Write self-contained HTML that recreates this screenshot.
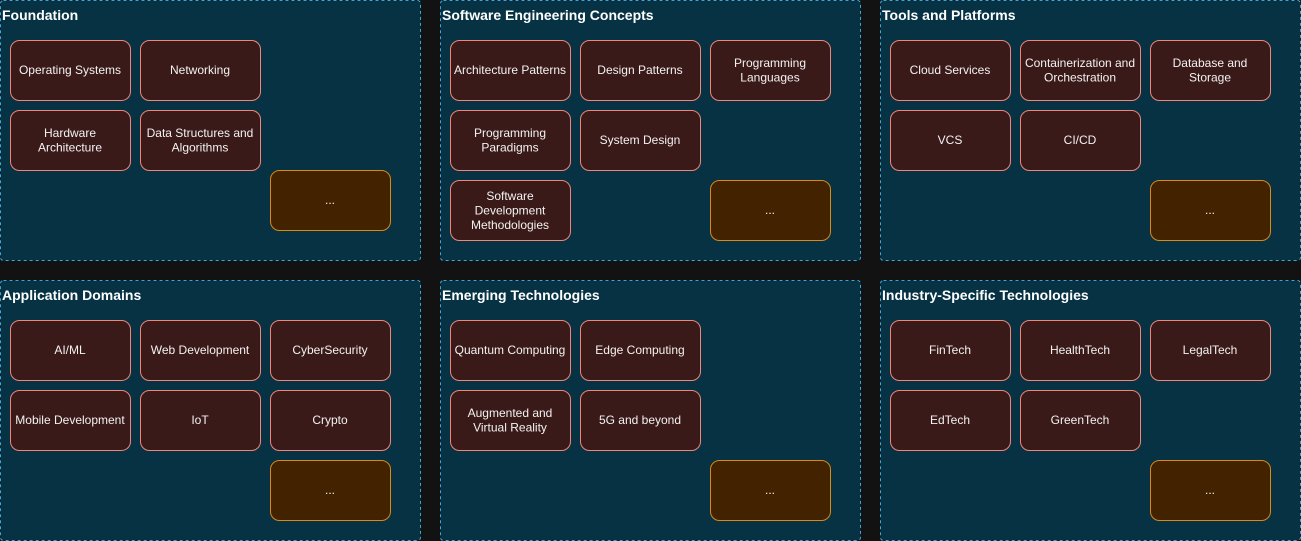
<!DOCTYPE html>
<html><head><meta charset="utf-8"><style>
html,body{margin:0;padding:0;background:#121212;}
svg{display:block;}
text{font-family:"Liberation Sans",Arial,sans-serif;}
.t{font-size:14px;font-weight:bold;fill:#ffffff;}
.n{font-size:12px;fill:#f2f2f2;text-anchor:middle;}
.c{fill:#063244;stroke:#3aa6dc;stroke-width:1;stroke-dasharray:3 3;}
.r{fill:#3a1a18;stroke:#f0867a;stroke-width:1;}
.o{fill:#432200;stroke:#d98a14;stroke-width:1;}
</style></head><body>
<svg width="1301" height="541" viewBox="0 0 1301 541" xmlns="http://www.w3.org/2000/svg">
<rect x="0" y="0" width="1301" height="541" fill="#121212"/>

<!-- Foundation -->
<g transform="translate(0,0)">
<rect class="c" x="0.5" y="0.5" width="420" height="260" rx="3"/>
<text class="t" x="2" y="20">Foundation</text>
<rect class="r" x="10.5" y="40.5" width="120" height="60" rx="9"/>
<text class="n" x="70" y="74">Operating Systems</text>
<rect class="r" x="140.5" y="40.5" width="120" height="60" rx="9"/>
<text class="n" x="200" y="74">Networking</text>
<rect class="r" x="10.5" y="110.5" width="120" height="60" rx="9"/>
<text class="n" x="70" y="137">Hardware</text><text class="n" x="70" y="151.5">Architecture</text>
<rect class="r" x="140.5" y="110.5" width="120" height="60" rx="9"/>
<text class="n" x="200" y="137">Data Structures and</text><text class="n" x="200" y="151.5">Algorithms</text>
<rect class="o" x="270.5" y="170.5" width="120" height="60" rx="9"/>
<text class="n" x="330" y="204">...</text>
</g>

<!-- Software Engineering Concepts -->
<g transform="translate(440,0)">
<rect class="c" x="0.5" y="0.5" width="420" height="260" rx="3"/>
<text class="t" x="2" y="20">Software Engineering Concepts</text>
<rect class="r" x="10.5" y="40.5" width="120" height="60" rx="9"/>
<text class="n" x="70" y="74">Architecture Patterns</text>
<rect class="r" x="140.5" y="40.5" width="120" height="60" rx="9"/>
<text class="n" x="200" y="74">Design Patterns</text>
<rect class="r" x="270.5" y="40.5" width="120" height="60" rx="9"/>
<text class="n" x="330" y="67">Programming</text><text class="n" x="330" y="81.5">Languages</text>
<rect class="r" x="10.5" y="110.5" width="120" height="60" rx="9"/>
<text class="n" x="70" y="137">Programming</text><text class="n" x="70" y="151.5">Paradigms</text>
<rect class="r" x="140.5" y="110.5" width="120" height="60" rx="9"/>
<text class="n" x="200" y="144">System Design</text>
<rect class="r" x="10.5" y="180.5" width="120" height="60" rx="9"/>
<text class="n" x="70" y="200">Software</text><text class="n" x="70" y="214.5">Development</text><text class="n" x="70" y="229">Methodologies</text>
<rect class="o" x="270.5" y="180.5" width="120" height="60" rx="9"/>
<text class="n" x="330" y="214">...</text>
</g>

<!-- Tools and Platforms -->
<g transform="translate(880,0)">
<rect class="c" x="0.5" y="0.5" width="420" height="260" rx="3"/>
<text class="t" x="2" y="20">Tools and Platforms</text>
<rect class="r" x="10.5" y="40.5" width="120" height="60" rx="9"/>
<text class="n" x="70" y="74">Cloud Services</text>
<rect class="r" x="140.5" y="40.5" width="120" height="60" rx="9"/>
<text class="n" x="200" y="67">Containerization and</text><text class="n" x="200" y="81.5">Orchestration</text>
<rect class="r" x="270.5" y="40.5" width="120" height="60" rx="9"/>
<text class="n" x="330" y="67">Database and</text><text class="n" x="330" y="81.5">Storage</text>
<rect class="r" x="10.5" y="110.5" width="120" height="60" rx="9"/>
<text class="n" x="70" y="144">VCS</text>
<rect class="r" x="140.5" y="110.5" width="120" height="60" rx="9"/>
<text class="n" x="200" y="144">CI/CD</text>
<rect class="o" x="270.5" y="180.5" width="120" height="60" rx="9"/>
<text class="n" x="330" y="214">...</text>
</g>

<!-- Application Domains -->
<g transform="translate(0,280)">
<rect class="c" x="0.5" y="0.5" width="420" height="260" rx="3"/>
<text class="t" x="2" y="20">Application Domains</text>
<rect class="r" x="10.5" y="40.5" width="120" height="60" rx="9"/>
<text class="n" x="70" y="74">AI/ML</text>
<rect class="r" x="140.5" y="40.5" width="120" height="60" rx="9"/>
<text class="n" x="200" y="74">Web Development</text>
<rect class="r" x="270.5" y="40.5" width="120" height="60" rx="9"/>
<text class="n" x="330" y="74">CyberSecurity</text>
<rect class="r" x="10.5" y="110.5" width="120" height="60" rx="9"/>
<text class="n" x="70" y="144">Mobile Development</text>
<rect class="r" x="140.5" y="110.5" width="120" height="60" rx="9"/>
<text class="n" x="200" y="144">IoT</text>
<rect class="r" x="270.5" y="110.5" width="120" height="60" rx="9"/>
<text class="n" x="330" y="144">Crypto</text>
<rect class="o" x="270.5" y="180.5" width="120" height="60" rx="9"/>
<text class="n" x="330" y="214">...</text>
</g>

<!-- Emerging Technologies -->
<g transform="translate(440,280)">
<rect class="c" x="0.5" y="0.5" width="420" height="260" rx="3"/>
<text class="t" x="2" y="20">Emerging Technologies</text>
<rect class="r" x="10.5" y="40.5" width="120" height="60" rx="9"/>
<text class="n" x="70" y="74">Quantum Computing</text>
<rect class="r" x="140.5" y="40.5" width="120" height="60" rx="9"/>
<text class="n" x="200" y="74">Edge Computing</text>
<rect class="r" x="10.5" y="110.5" width="120" height="60" rx="9"/>
<text class="n" x="70" y="137">Augmented and</text><text class="n" x="70" y="151.5">Virtual Reality</text>
<rect class="r" x="140.5" y="110.5" width="120" height="60" rx="9"/>
<text class="n" x="200" y="144">5G and beyond</text>
<rect class="o" x="270.5" y="180.5" width="120" height="60" rx="9"/>
<text class="n" x="330" y="214">...</text>
</g>

<!-- Industry-Specific Technologies -->
<g transform="translate(880,280)">
<rect class="c" x="0.5" y="0.5" width="420" height="260" rx="3"/>
<text class="t" x="2" y="20">Industry-Specific Technologies</text>
<rect class="r" x="10.5" y="40.5" width="120" height="60" rx="9"/>
<text class="n" x="70" y="74">FinTech</text>
<rect class="r" x="140.5" y="40.5" width="120" height="60" rx="9"/>
<text class="n" x="200" y="74">HealthTech</text>
<rect class="r" x="270.5" y="40.5" width="120" height="60" rx="9"/>
<text class="n" x="330" y="74">LegalTech</text>
<rect class="r" x="10.5" y="110.5" width="120" height="60" rx="9"/>
<text class="n" x="70" y="144">EdTech</text>
<rect class="r" x="140.5" y="110.5" width="120" height="60" rx="9"/>
<text class="n" x="200" y="144">GreenTech</text>
<rect class="o" x="270.5" y="180.5" width="120" height="60" rx="9"/>
<text class="n" x="330" y="214">...</text>
</g>
</svg>
</body></html>
